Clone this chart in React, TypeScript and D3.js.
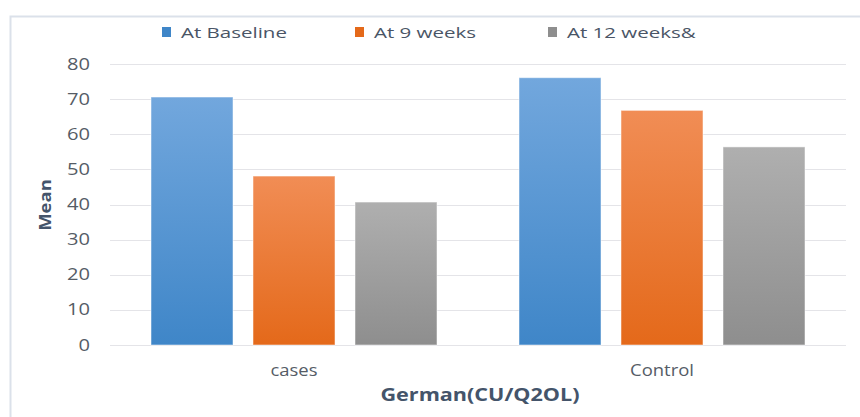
import React, { useRef, useEffect } from "react";
import * as d3 from "d3";

const groups = ["cases", "Control"];
const seriesNames = ["At Baseline", "At 9 weeks", "At 12 weeks&"];
const baseline = [70.6, 76.1];
const week9 = [48.1, 66.8];
const week12 = [40.7, 56.4];
const yTicks = [0, 10, 20, 30, 40, 50, 60, 70, 80];

const colorsTop = ["#72a7dd", "#f18d55", "#afafaf"];
const colorsBottom = ["#3f86c8", "#e4691a", "#8e8e8e"];

function App() {
  const svgRef = useRef<SVGSVGElement>(null);
  const width = 860;
  const height = 417;

  useEffect(() => {
    const svg = d3.select(svgRef.current);
    svg.selectAll("*").remove();

    const values = [baseline, week9, week12];
    const font = "'Open Sans', 'Segoe UI', sans-serif";
    const textColor = "#4a5566";

    // gradients for the bars
    const defs = svg.append("defs");
    seriesNames.forEach((s, i) => {
      const g = defs
        .append("linearGradient")
        .attr("id", "grad" + i)
        .attr("x1", 0)
        .attr("y1", 0)
        .attr("x2", 0)
        .attr("y2", 1);
      g.append("stop").attr("offset", "0%").attr("stop-color", colorsTop[i]);
      g.append("stop").attr("offset", "100%").attr("stop-color", colorsBottom[i]);
    });

    // outer frame (left and top edges only visible)
    svg
      .append("path")
      .attr("d", `M10.5,${height} L10.5,16.5 L${width},16.5`)
      .attr("fill", "none")
      .attr("stroke", "#dbe1ea")
      .attr("stroke-width", 2);

    const x0 = d3.scaleBand().domain(groups).range([110, 846]).padding(0);
    const x1 = d3
      .scaleBand()
      .domain(seriesNames)
      .range([41, x0.bandwidth() - 41])
      .paddingInner(0.196)
      .paddingOuter(0);
    const y = d3.scaleLinear().domain([0, 80]).range([345, 64]);

    // gridlines
    svg
      .append("g")
      .selectAll("line")
      .data(yTicks)
      .join("line")
      .attr("x1", 110)
      .attr("x2", 846)
      .attr("y1", (d) => Math.round(y(d)) + 0.5)
      .attr("y2", (d) => Math.round(y(d)) + 0.5)
      .attr("stroke", "#e4e4e8")
      .attr("stroke-width", 1.2);

    // y tick labels (source picture is stretched horizontally)
    svg
      .append("g")
      .selectAll("text")
      .data(yTicks)
      .join("text")
      .attr("transform", (d) => `translate(90,${y(d)}) scale(1.3,1)`)
      .attr("dy", "0.36em")
      .attr("text-anchor", "end")
      .style("font", `15.5px ${font}`)
      .attr("fill", "#555c66")
      .text((d) => d);

    // bars
    const gGroups = svg
      .append("g")
      .selectAll("g")
      .data(groups)
      .join("g")
      .attr("transform", (d) => `translate(${x0(d)},0)`);

    gGroups
      .selectAll("rect")
      .data((d, gi) => seriesNames.map((s, si) => ({ s, si, v: values[si][gi] })))
      .join("rect")
      .attr("x", (d) => x1(d.s)!)
      .attr("width", x1.bandwidth())
      .attr("y", (d) => y(d.v))
      .attr("height", (d) => y(0) - y(d.v))
      .attr("fill", (d) => `url(#grad${d.si})`)
      .attr("stroke", "rgba(255,255,255,0.5)")
      .attr("stroke-width", 1);

    // category labels
    svg
      .append("g")
      .selectAll("text")
      .data(groups)
      .join("text")
      .attr(
        "transform",
        (d) => `translate(${x0(d)! + x0.bandwidth() / 2},376) scale(1.12,1)`
      )
      .attr("text-anchor", "middle")
      .style("font", `16.5px ${font}`)
      .attr("fill", "#555c66")
      .text((d) => d);

    // x axis title
    svg
      .append("text")
      .attr("transform", "translate(480,401) scale(1.27,1)")
      .attr("text-anchor", "middle")
      .style("font", `bold 17px ${font}`)
      .attr("fill", "#44546a")
      .text("German(CU/Q2OL)");

    // y axis title
    svg
      .append("text")
      .attr("transform", "translate(51,205) rotate(-90) scale(1.12,1)")
      .attr("text-anchor", "middle")
      .style("font", `bold 16.5px ${font}`)
      .attr("fill", "#44546a")
      .text("Mean");

    // legend
    const legendX = [162, 355, 548];
    const legend = svg
      .append("g")
      .selectAll("g")
      .data(seriesNames)
      .join("g")
      .attr("transform", (d, i) => `translate(${legendX[i]},26)`);
    legend
      .append("rect")
      .attr("width", 9)
      .attr("height", 10)
      .attr("y", 1)
      .attr("fill", (d, i) => colorsBottom[i]);
    legend
      .append("text")
      .attr("transform", "translate(19,11.5) scale(1.34,1)")
      .style("font", `15.3px ${font}`)
      .attr("fill", textColor)
      .text((d) => d);
  }, []);

  return (
    <svg
      ref={svgRef}
      width={width}
      height={height}
      style={{ position: "absolute", left: 0, top: 0, background: "#fff" }}
    ></svg>
  );
}

export default App;
